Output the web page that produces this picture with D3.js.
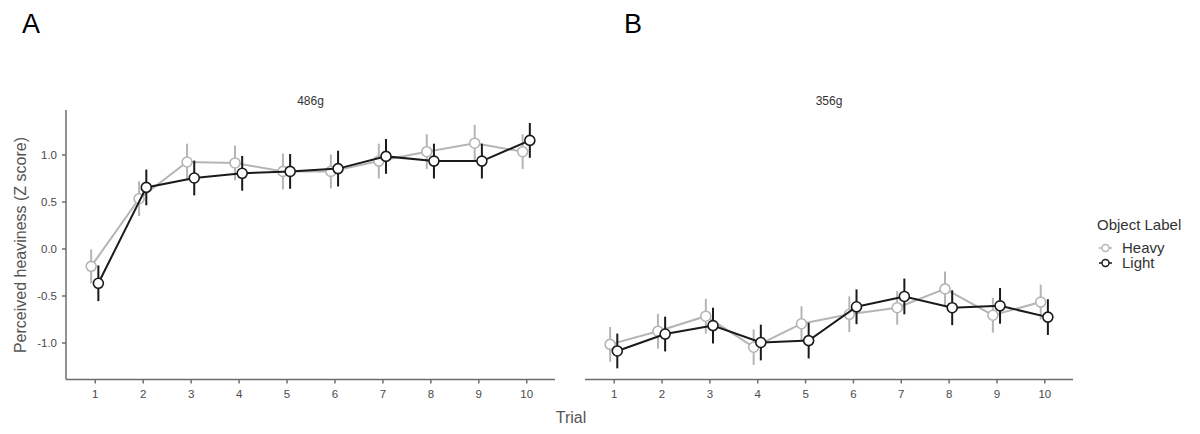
<!DOCTYPE html>
<html><head><meta charset="utf-8">
<script src="https://cdn.jsdelivr.net/npm/d3@7"></script>
<style>body{margin:0;background:#fff;} text{font-family:"Liberation Sans",Arial,sans-serif;}</style>
</head><body><svg id="c" width="1200" height="434"></svg>
<script>
const trials = [1,2,3,4,5,6,7,8,9,10];
const panels = ["486g","356g"];
const panelLetters = ["A","B"];
const groups = ["Heavy","Light"];
const yTicks = [-1.0,-0.5,0.0,0.5,1.0];
// 486g
const heavyMeanA = [-0.19,0.53,0.92,0.91,0.82,0.82,0.93,1.03,1.12,1.03];
const heavySeA   = [0.18,0.185,0.195,0.185,0.19,0.18,0.185,0.185,0.195,0.185];
const lightMeanA = [-0.37,0.65,0.75,0.80,0.82,0.85,0.98,0.93,0.93,1.15];
const lightSeA   = [0.19,0.19,0.185,0.185,0.185,0.19,0.185,0.185,0.185,0.185];
// 356g
const heavyMeanB = [-1.02,-0.88,-0.72,-1.05,-0.80,-0.70,-0.63,-0.43,-0.71,-0.57];
const heavySeB   = [0.185,0.185,0.185,0.19,0.185,0.19,0.18,0.185,0.185,0.185];
const lightMeanB = [-1.09,-0.91,-0.82,-1.00,-0.98,-0.62,-0.51,-0.63,-0.61,-0.73];
const lightSeB   = [0.185,0.185,0.19,0.19,0.19,0.185,0.19,0.185,0.19,0.19];

const data = [
  {Heavy:{m:heavyMeanA,se:heavySeA}, Light:{m:lightMeanA,se:lightSeA}},
  {Heavy:{m:heavyMeanB,se:heavySeB}, Light:{m:lightMeanB,se:lightSeB}}
];
const colors = {Heavy:"#b5b5b5", Light:"#1a1a1a"};
const dodge = {Heavy:-0.075, Light:0.075};

const svg = d3.select("#c");
const plotTop = 110, plotBottom = 379.5;
const panelX = [[66,555],[585,1073]];
const y = d3.scaleLinear().domain([-1,1]).range([342.5,154.5]);
const axisCol = "#6e6e6e", tickTxt = "#4a4a4a";
const FF = "Liberation Sans, Arial, sans-serif";

panels.forEach((p,pi)=>{
  const [x0,x1] = panelX[pi];
  const x = d3.scaleLinear().domain([0.4,10.6]).range([x0,x1]);
  const g = svg.append("g");
  // strip
  g.append("text").attr("x",(x0+x1)/2).attr("y",105).attr("text-anchor","middle")
    .attr("font-size",12).attr("fill","#333").text(p);
  // x axis
  const xa = g.append("g").attr("transform",`translate(0,${plotBottom})`)
    .call(d3.axisBottom(x).tickValues(trials).tickSize(4).tickSizeOuter(0).tickPadding(6));
  xa.select(".domain").attr("stroke",axisCol).attr("stroke-width",1.5).attr("d",`M${x0},0H${x1}`);
  xa.selectAll(".tick line").attr("stroke",axisCol).attr("stroke-width",1.5);
  xa.selectAll(".tick text").attr("font-size",11.5).attr("fill",tickTxt).attr("font-family",FF);
  if(pi===0){
    const ya = g.append("g").attr("transform",`translate(${x0},0)`)
      .call(d3.axisLeft(y).tickValues(yTicks).tickFormat(d3.format(".1f")).tickSize(4).tickPadding(5).tickSizeOuter(0));
    ya.select(".domain").attr("stroke",axisCol).attr("stroke-width",1.5).attr("d",`M0,${plotTop}V${plotBottom}`);
    ya.selectAll(".tick line").attr("stroke",axisCol).attr("stroke-width",1.5);
    ya.selectAll(".tick text").attr("font-size",11.5).attr("fill",tickTxt).attr("font-family",FF)
      .text(d=> d3.format(".1f")(d).replace("−","-"));
  }
  groups.forEach(gr=>{
    const d = data[pi][gr];
    const pts = trials.map((t,i)=>({x:x(t+dodge[gr]), m:d.m[i], se:d.se[i]}));
    const c = colors[gr];
    g.append("path").datum(pts).attr("fill","none").attr("stroke",c).attr("stroke-width",2)
      .attr("d", d3.line().x(q=>q.x).y(q=>y(q.m)));
    g.selectAll(null).data(pts).enter().append("line")
      .attr("x1",q=>q.x).attr("x2",q=>q.x).attr("y1",q=>y(q.m-q.se)).attr("y2",q=>y(q.m+q.se))
      .attr("stroke",c).attr("stroke-width",2);
    g.selectAll(null).data(pts).enter().append("circle")
      .attr("cx",q=>q.x).attr("cy",q=>y(q.m)).attr("r",5)
      .attr("fill","#fff").attr("stroke",c).attr("stroke-width",1.6);
  });
  svg.append("text").attr("x",pi===0?22:624).attr("y",33).attr("font-size",27)
    .attr("font-family","Open Sans, Liberation Sans, sans-serif").attr("fill","#000").text(panelLetters[pi]);
});

// axis titles
svg.append("text").attr("transform","translate(26,245) rotate(-90)").attr("text-anchor","middle")
  .attr("font-size",16).attr("fill","#555").text("Perceived heaviness (Z score)");
svg.append("text").attr("x",571).attr("y",423).attr("text-anchor","middle")
  .attr("font-size",16).attr("fill","#555").text("Trial");

// legend
const lg = svg.append("g");
lg.append("text").attr("x",1097).attr("y",230).attr("font-size",15).attr("fill","#333").text("Object Label");
groups.forEach((gr,i)=>{
  const cy = 248 + i*15;
  lg.append("line").attr("x1",1099).attr("x2",1112).attr("y1",cy).attr("y2",cy).attr("stroke",colors[gr]).attr("stroke-width",1.5);
  lg.append("circle").attr("cx",1105.5).attr("cy",cy).attr("r",3.5).attr("fill","#fff").attr("stroke",colors[gr]).attr("stroke-width",1.4);
  lg.append("text").attr("x",1122).attr("y",cy+5).attr("font-size",15).attr("fill","#333").text(gr);
});
</script></body></html>
